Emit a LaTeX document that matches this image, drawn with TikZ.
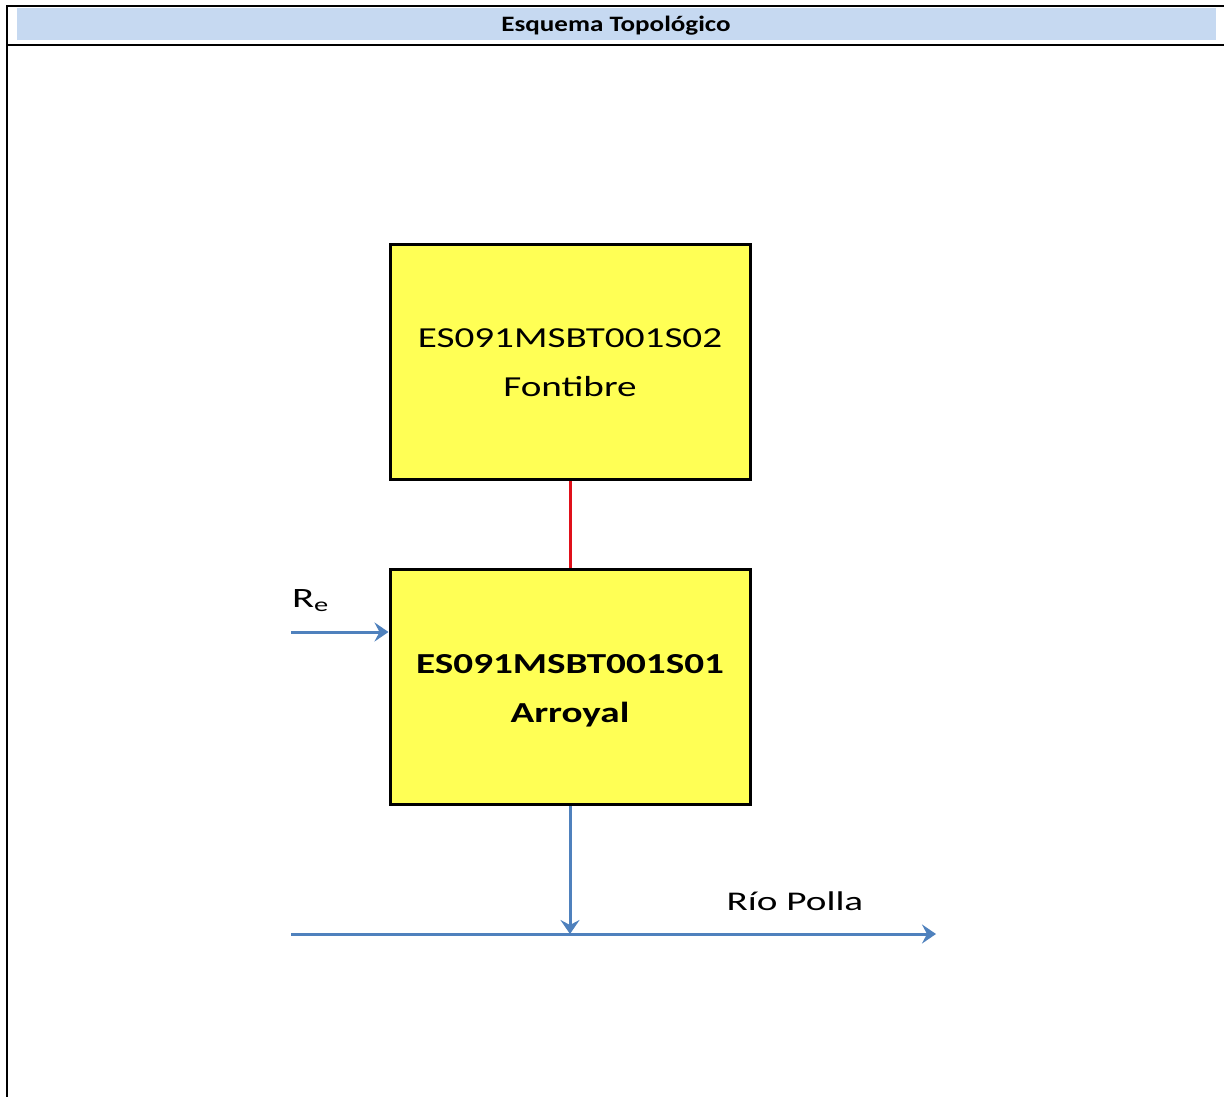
\documentclass[tikz,border=0pt]{standalone}
\usepackage{fontspec}
\usepackage{graphicx}
\setmainfont{Carlito}
\usetikzlibrary{arrows.meta}
\definecolor{hdrblue}{HTML}{C6D9F1}
\definecolor{boxyellow}{HTML}{FFFF55}
\definecolor{flowblue}{HTML}{4F81BD}
\definecolor{linkred}{HTML}{E0101A}
\newcommand{\wide}[2]{\scalebox{#1}[1]{#2}}
\begin{document}
\begin{tikzpicture}[x=1pt,y=-1pt,
  wbox/.style={draw=black,line width=3pt,fill=boxyellow,minimum width=360pt,minimum height=235pt,inner sep=0pt,align=center},
  boxtext/.style={inner sep=0pt,font=\fontsize{29}{49}\selectfont},
  flow/.style={draw=flowblue,line width=3pt,-{Stealth[length=14pt,width=19pt,inset=5pt]}},
  frame/.style={draw=black,line width=2pt}]
\useasboundingbox (0,0) rectangle (1224,1097);
\fill[hdrblue] (17,8) rectangle (1216,40);
\node[font=\fontsize{22}{24}\selectfont\bfseries] (title) at (616,26) {\wide{1.23}{Esquema Topológico}};
\draw[frame] (7,1097) -- (7,6.5) -- (1224,6.5);
\draw[frame] (7,45) -- (1224,45);
\node[wbox] (s02) at (570,361.5) {};
\node[wbox] (s01) at (570,687) {};
\node[boxtext] (s02t) at (570,362) {\wide{1.35}{\begin{tabular}{@{}c@{}}ES091MSBT001S02\\Fontibre\end{tabular}}};
\node[boxtext] (s01t) at (570,688) {\wide{1.35}{\begin{tabular}{@{}c@{}}\bfseries ES091MSBT001S01\\\bfseries Arroyal\end{tabular}}};
\draw[linkred,line width=3pt] (s02.south) -- (s01.north);
\coordinate (rein) at (291,632);
\draw[flow] (rein) -- (rein -| s01.west);
\node[font=\fontsize{28}{30}\selectfont,anchor=south west,inner sep=0pt] (re) at (292,612) {\wide{1.45}{R\textsubscript{e}}};
\coordinate (rl) at (291,934);
\coordinate (rr) at (936,934);
\draw[flow] (rl) -- (rr);
\draw[flow] (s01.south) -- (s01.south |- rl);
\node[font=\fontsize{27}{30}\selectfont] (rio) at (795,901) {\wide{1.45}{Río Polla}};
\end{tikzpicture}
\end{document}
